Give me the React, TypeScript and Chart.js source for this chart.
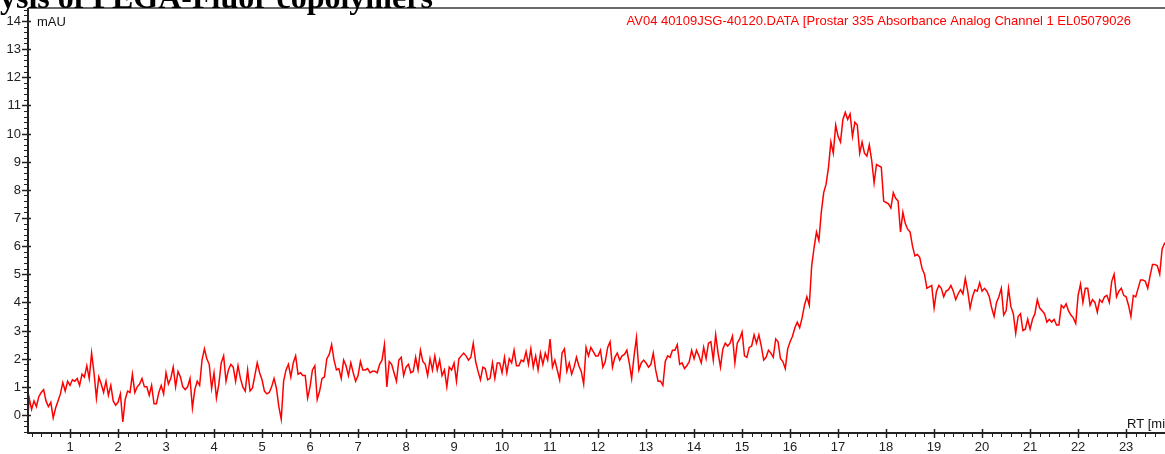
import React, { useEffect, useRef } from "react";
import { Chart, registerables } from "chart.js";

Chart.register(...registerables);

// ---- Data (retention time in minutes, absorbance in mAU) ----
const rtStart = 0.1;
const rtStep = 0.05;

const signal0to4 = [
  -0.6, 0.6, 0.2, 0.5, 0.3, 0.65, 0.8, 0.9, 0.5, 0.3,
  0.45, -0.1, 0.25, 0.5, 0.75, 1.15, 0.85, 1.2, 1.05, 1.25,
  1.2, 1.3, 1.05, 1.45, 1.35, 1.75, 1.3, 2.2, 1.5, 0.6,
  1.35, 1.1, 0.8, 1.2, 0.7, 1.05, 0.5, 0.35, 0.45, 0.75,
  -0.25, 0.55, 0.85, 0.8, 1.45, 0.8, 1.0, 1.1, 1.3, 1.0,
  1.0, 0.7, 1.05, 0.4, 0.4, 0.8, 1.05, 0.75, 1.5, 1.1,
  1.3, 1.7, 1.0, 1.55, 1.35, 1.0, 0.9, 1.0, 1.3, 0.25,
  0.9, 1.2, 1.05, 1.95, 2.35, 2.0, 1.8, 0.95, 1.5, 0.6,
];

const signal4to8 = [
  1.1, 1.85, 2.1, 1.2, 1.6, 1.8, 1.7, 1.2, 1.75, 1.3,
  1.0, 0.85, 1.6, 0.85, 0.95, 1.4, 1.85, 1.5, 1.25, 0.85,
  0.75, 0.8, 1.0, 1.3, 0.95, 0.3, -0.15, 1.2, 1.6, 1.8,
  1.35, 1.85, 2.1, 1.45, 1.5, 1.4, 1.4, 0.6, 1.0, 1.6,
  1.75, 0.55, 0.85, 1.3, 1.35, 2.0, 2.15, 2.5, 1.95, 1.6,
  1.65, 1.3, 1.95, 1.75, 1.4, 1.85, 1.5, 1.2, 1.4, 1.9,
  1.6, 1.6, 1.65, 1.5, 1.55, 1.55, 1.5, 1.8, 1.95, 2.5,
  1.0, 1.9, 1.8, 1.5, 1.2, 1.95, 2.05, 1.4, 1.7, 1.8,
];

const signal8to12 = [
  1.5, 1.55, 2.05, 1.6, 2.3, 1.9, 1.8, 1.4, 2.0, 1.6,
  2.1, 1.6, 1.95, 1.4, 1.6, 1.0, 1.7, 1.6, 1.85, 1.2,
  2.0, 2.1, 2.2, 2.1, 1.95, 2.05, 2.55, 1.9, 1.55, 1.25,
  1.7, 1.65, 1.25, 1.3, 1.85, 1.3, 1.85, 1.85, 1.5, 2.05,
  1.5, 2.0, 1.85, 2.3, 1.75, 1.75, 1.95, 1.9, 2.25, 1.8,
  2.35, 1.7, 2.1, 1.6, 2.2, 1.8, 2.2, 1.95, 2.7, 1.7,
  1.95, 1.6, 1.25, 2.2, 2.35, 1.55, 1.85, 1.45, 1.7, 2.05,
  1.75, 1.55, 1.1, 2.4, 2.1, 2.4, 2.25, 2.1, 2.1,
];

const signal12to16 = [
  2.3, 1.7, 1.9, 2.4, 2.6, 1.7, 2.05, 2.2, 1.95, 2.1,
  2.15, 2.3, 1.85, 1.3, 2.1, 2.75, 1.6, 1.85, 1.95, 1.85,
  1.7, 1.8, 2.2, 1.6, 1.2, 1.2, 1.05, 1.9, 2.1, 2.05,
  2.3, 2.3, 2.5, 1.8, 1.85, 1.65, 1.75, 1.9, 2.3, 2.0,
  2.3, 2.1, 1.85, 2.4, 2.0, 2.55, 2.6, 1.95, 2.85, 2.2,
  1.7, 2.35, 2.55, 2.45, 2.55, 2.8, 1.85, 2.55, 2.7, 2.95,
  2.1, 2.05, 2.4, 2.45, 2.85, 2.55, 2.85, 2.45, 1.95, 2.05,
  2.3, 2.2, 2.05, 2.7, 2.6, 2.0, 1.9, 1.65, 2.35,
];

const signal16to20 = [
  2.6, 2.8, 3.1, 3.3, 3.1, 3.45, 3.9, 4.2, 3.9, 5.3,
  5.95, 6.5, 6.2, 7.2, 7.9, 8.2, 8.8, 9.7, 9.3, 10.3,
  9.9, 9.7, 10.5, 10.75, 10.5, 10.7, 9.9, 10.4, 10.3, 9.3,
  9.7, 9.3, 9.2, 9.6, 9.05, 8.25, 8.9, 8.85, 8.8, 7.6,
  7.55, 7.5, 7.35, 7.9, 7.7, 7.6, 6.5, 7.2, 6.8, 6.6,
  6.5, 6.0, 5.65, 5.7, 5.6, 5.2, 5.0, 4.5, 4.55, 4.6,
  3.8, 4.4, 4.6, 4.5, 4.2, 4.4, 4.45, 4.6, 4.4, 4.1,
  4.3, 4.45, 4.3, 4.85, 4.4, 3.8,
];

const signal20to24 = [
  4.2, 4.45, 4.4, 4.7, 4.4, 4.5, 4.4, 4.2, 3.8, 3.5,
  4.0, 4.2, 4.5, 3.55, 3.7, 4.5, 3.85, 3.6, 2.9, 3.5,
  3.6, 3.0, 3.05, 3.4, 3.05, 3.4, 3.6, 4.1, 3.8, 3.7,
  3.6, 3.3, 3.4, 3.3, 3.4, 3.2, 3.2, 3.9, 3.8, 3.95,
  3.7, 3.55, 3.45, 3.25, 4.25, 4.65, 4.0, 4.5, 4.5, 3.9,
  4.1, 4.0, 3.65, 4.1, 4.0, 4.2, 4.25, 4.0, 4.75, 5.0,
  4.2, 4.4, 4.5, 4.25, 4.2, 3.9, 3.5, 4.25, 4.2, 4.5,
  4.8, 4.8, 4.75, 4.5, 4.95, 5.35, 5.35, 5.3, 5.0, 5.9,
  6.1, 6.0,
];

const xTickLabels = ["1", "2", "3", "4", "5", "6", "7", "8", "9", "10", "11", "12",
  "13", "14", "15", "16", "17", "18", "19", "20", "21", "22", "23"];
const yTickLabels = ["0", "1", "2", "3", "4", "5", "6", "7", "8", "9", "10", "11",
  "12", "13", "14"];

const titleText = "Analysis of PEGA-Fluor copolymers";
const traceLabel = "AV04 40109JSG-40120.DATA [Prostar 335 Absorbance Analog Channel 1 EL05079026";
const yUnit = "mAU";
const xUnit = "RT [min]";

const X_MIN = 0.125;
const X_MAX = 23.81;
const Y_MIN = -0.64;
const Y_MAX = 14.46;
const MINOR = 0.2;

const SANS = '"Liberation Sans", Arial, sans-serif';

const axesPlugin = {
  id: "chromAxes",
  afterDraw(chart: any) {
    const { ctx, chartArea: a, scales } = chart;
    const xs = scales.x;
    const ys = scales.y;
    ctx.save();

    // top frame line
    ctx.strokeStyle = "#6a6a6a";
    ctx.lineWidth = 2;
    ctx.beginPath();
    ctx.moveTo(a.left, a.top);
    ctx.lineTo(a.right, a.top);
    ctx.stroke();

    // axes
    ctx.strokeStyle = "#222";
    ctx.lineWidth = 2;
    ctx.beginPath();
    ctx.moveTo(a.left, a.top);
    ctx.lineTo(a.left, a.bottom);
    ctx.lineTo(a.right, a.bottom);
    ctx.stroke();

    ctx.lineWidth = 1;
    ctx.strokeStyle = "#222";
    ctx.beginPath();
    // y minor ticks
    for (let k = Math.ceil(Y_MIN / MINOR); k * MINOR <= Y_MAX; k++) {
      const py = Math.round(ys.getPixelForValue(k * MINOR)) + 0.5;
      ctx.moveTo(a.left - 4, py);
      ctx.lineTo(a.left, py);
    }
    // x minor ticks
    for (let k = Math.ceil(X_MIN / MINOR); k * MINOR <= X_MAX; k++) {
      const px = Math.round(xs.getPixelForValue(k * MINOR)) + 0.5;
      ctx.moveTo(px, a.bottom);
      ctx.lineTo(px, a.bottom + 4);
    }
    ctx.stroke();

    ctx.lineWidth = 1.5;
    ctx.beginPath();
    yTickLabels.forEach((l) => {
      const py = Math.round(ys.getPixelForValue(Number(l))) + 0.5;
      ctx.moveTo(a.left - 6, py);
      ctx.lineTo(a.left + 3, py);
    });
    xTickLabels.forEach((l) => {
      const px = Math.round(xs.getPixelForValue(Number(l))) + 0.5;
      ctx.moveTo(px, a.bottom - 4);
      ctx.lineTo(px, a.bottom + 5);
    });
    ctx.stroke();

    // tick labels
    ctx.fillStyle = "#222";
    ctx.font = `13px ${SANS}`;
    ctx.textBaseline = "middle";
    ctx.textAlign = "right";
    yTickLabels.forEach((l) => {
      ctx.fillText(l, a.left - 7, ys.getPixelForValue(Number(l)) + 0.5);
    });
    ctx.textAlign = "center";
    xTickLabels.forEach((l) => {
      ctx.fillText(l, xs.getPixelForValue(Number(l)), a.bottom + 14);
    });

    // unit labels
    ctx.textAlign = "left";
    ctx.fillStyle = "#111";
    ctx.fillText(yUnit, a.left + 9, a.top + 14);
    ctx.fillText(xUnit, a.right - 38, a.bottom - 9);

    // trace label
    ctx.fillStyle = "#ff0000";
    ctx.textAlign = "right";
    ctx.fillText(traceLabel, a.right - 34, a.top + 13);

    // clipped document heading
    ctx.fillStyle = "#000";
    ctx.font = `bold 32px "Liberation Serif", "Times New Roman", serif`;
    ctx.textAlign = "left";
    ctx.textBaseline = "alphabetic";
    const off = ctx.measureText("Anal").width;
    ctx.fillText(titleText, -off, 7.5);

    ctx.restore();
  },
};

export default function App() {
  const ref = useRef<HTMLCanvasElement | null>(null);

  useEffect(() => {
    if (!ref.current) return;
    const values = [
      ...signal0to4,
      ...signal4to8,
      ...signal8to12,
      ...signal12to16,
      ...signal16to20,
      ...signal20to24,
    ];
    const points = values.map((v, i) => ({ x: rtStart + i * rtStep, y: v }));
    const chart = new Chart(ref.current, {
      type: "line",
      data: {
        datasets: [
          {
            label: traceLabel,
            data: points,
            borderColor: "#ff0000",
            borderWidth: 1.5,
            pointRadius: 0,
            tension: 0,
            fill: false,
          },
        ],
      },
      options: {
        animation: false,
        responsive: false,
        devicePixelRatio: 1,
        layout: { padding: { left: 28, top: 8, right: 0, bottom: 21 } },
        scales: {
          x: { type: "linear", min: X_MIN, max: X_MAX, display: false },
          y: { type: "linear", min: Y_MIN, max: Y_MAX, display: false },
        },
        plugins: {
          legend: { display: false },
          tooltip: { enabled: false },
          title: { display: false },
        },
      },
      plugins: [axesPlugin],
    });
    return () => chart.destroy();
  }, []);

  return (
    <div style={{ position: "fixed", left: 0, top: 0, width: 1165, height: 454, background: "#fff" }}>
      <canvas ref={ref} width={1165} height={454} style={{ display: "block" }} />
    </div>
  );
}
